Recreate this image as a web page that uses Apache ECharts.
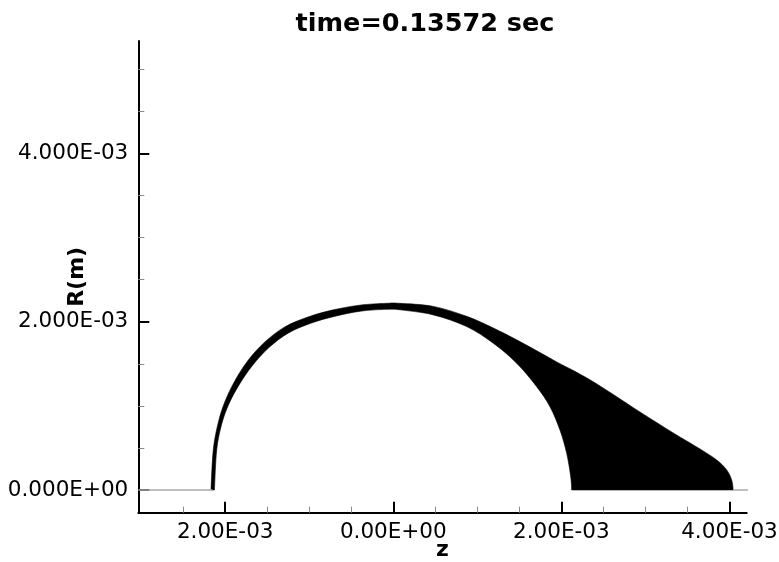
<!DOCTYPE html>
<html>
<head>
<meta charset="utf-8">
<script src="https://cdn.jsdelivr.net/npm/echarts@6/dist/echarts.min.js"></script>
<style>html,body{margin:0;padding:0;background:#fff}#c{width:779px;height:562px}</style>
</head>
<body>
<div id="c"></div>
<script>
// ---- data (values in metres) ----
const titleText = 'time=0.13572 sec';
const xName = 'z';
const yName = 'R(m)';
const xMajorTicks = [-2e-3, 0, 2e-3, 4e-3];
const xTickLabels = ['2.00E-03', '0.00E+00', '2.00E-03', '4.00E-03'];
const xMinorTicks = [-2.5e-3, -1.5e-3, -1e-3, -0.5e-3, 0.5e-3, 1e-3, 1.5e-3, 2.5e-3, 3e-3, 3.5e-3];
const yMajorTicks = [0, 2e-3, 4e-3];
const yTickLabels = ['0.000E+00', '2.000E-03', '4.000E-03'];
const yMinorTicks = [0.5e-3, 1e-3, 1.5e-3, 2.5e-3, 3e-3, 3.5e-3, 4.5e-3, 5e-3];
const xRange = [-3.034e-3, 4.205e-3];
const yRange = [-0.27e-3, 5.336e-3];

// interface outer edge (z, R) in units of 1E-3 m, left bottom -> over the top -> tail end
const outerZ = [-2.169, -2.142, -2.082, -2.005, -1.889, -1.733, -1.532, -1.291, -1.008, -0.726, -0.403, -0.079, 0.080,
  0.476, 0.873, 1.190, 1.468, 1.745, 1.944, 2.182, 2.459, 2.935, 3.331, 3.649, 3.848, 3.967, 4.026, 4.045];
const outerR = [0, 0.476, 0.803, 1.046, 1.290, 1.534, 1.756, 1.938, 2.058, 2.138, 2.196, 2.219, 2.218,
  2.182, 2.064, 1.925, 1.784, 1.633, 1.522, 1.398, 1.237, 0.927, 0.678, 0.488, 0.357, 0.238, 0.119, 0];
// interface inner edge (z, R) in units of 1E-3 m, tail inner bottom -> over the top -> left bottom
const innerZ = [2.123, 2.111, 2.063, 1.983, 1.864, 1.706, 1.468, 1.190, 0.873, 0.476, 0.080,
  -0.079, -0.389, -0.701, -0.973, -1.246, -1.480, -1.676, -1.837, -1.960, -2.042, -2.101, -2.128];
const innerR = [0, 0.158, 0.436, 0.713, 0.990, 1.228, 1.507, 1.744, 1.942, 2.081, 2.141,
  2.147, 2.125, 2.063, 1.985, 1.867, 1.692, 1.479, 1.246, 1.014, 0.782, 0.476, 0];
// symmetry-axis segments outside the drop (z in 1E-3 m)
const baseLeftZ = [-3.034, -2.15];
const baseRightZ = [4.04, 4.22];

const FONT = 'DejaVu Sans';
const chart = echarts.init(document.getElementById('c'), null, {renderer: 'canvas'});

function labelFor(ticks, labels) {
  return function (v) {
    for (let i = 0; i < ticks.length; i++) if (Math.abs(v - ticks[i]) < 1e-9) return labels[i];
    return '';
  };
}

const outerPts = outerZ.map((z, i) => [z * 1e-3, outerR[i] * 1e-3]);
const innerPts = innerZ.map((z, i) => [z * 1e-3, innerR[i] * 1e-3]);

// smooth curve through pixel points (Catmull-Rom as cubic Bezier), drawing only
function curvePath(p, first) {
  let d = (first ? 'M' : 'L') + p[0][0].toFixed(2) + ' ' + p[0][1].toFixed(2);
  const n = p.length;
  for (let i = 0; i < n - 1; i++) {
    const p0 = p[Math.max(0, i - 1)], p1 = p[i], p2 = p[i + 1], p3 = p[Math.min(n - 1, i + 2)];
    const c1 = [p1[0] + (p2[0] - p0[0]) / 6, p1[1] + (p2[1] - p0[1]) / 6];
    const c2 = [p2[0] - (p3[0] - p1[0]) / 6, p2[1] - (p3[1] - p1[1]) / 6];
    d += ' C' + c1[0].toFixed(2) + ' ' + c1[1].toFixed(2) + ' ' + c2[0].toFixed(2) + ' ' + c2[1].toFixed(2) +
      ' ' + p2[0].toFixed(2) + ' ' + p2[1].toFixed(2);
  }
  return d;
}

chart.setOption({
  animation: false,
  backgroundColor: '#fff',
  title: {
    text: titleText, left: 420, top: 6, textAlign: 'center',
    textStyle: {fontFamily: FONT, fontSize: 25.5, fontWeight: 'bold', color: '#000'}
  },
  grid: {left: 138.3, right: 32.3, top: 41, bottom: 49.3, containLabel: false, outerBoundsMode: 'none'},
  xAxis: [{
    type: 'value', min: xRange[0], max: xRange[1], position: 'bottom',
    name: xName, nameLocation: 'middle', nameGap: 27, nameMoveOverlap: false,
    nameTextStyle: {fontFamily: FONT, fontSize: 22, fontWeight: 'bold', color: '#000'},
    axisLine: {show: true, onZero: false, lineStyle: {color: '#000', width: 2}},
    axisTick: {show: true, inside: true, length: 11, lineStyle: {color: '#000', width: 2}, customValues: xMajorTicks},
    axisLabel: {show: true, margin: 9, customValues: xMajorTicks, formatter: labelFor(xMajorTicks, xTickLabels),
      fontFamily: FONT, fontSize: 21.5, color: '#000'},
    splitLine: {show: false}
  }, {
    type: 'value', min: xRange[0], max: xRange[1], position: 'bottom', offset: 0,
    axisLine: {show: false, onZero: false},
    axisTick: {show: true, inside: true, length: 6, lineStyle: {color: '#888', width: 1}, customValues: xMinorTicks},
    axisLabel: {show: false},
    splitLine: {show: false}
  }],
  yAxis: [{
    type: 'value', min: yRange[0], max: yRange[1], position: 'left',
    name: yName, nameLocation: 'middle', nameGap: 50, nameRotate: 90, nameMoveOverlap: false,
    nameTextStyle: {fontFamily: FONT, fontSize: 22, fontWeight: 'bold', color: '#000'},
    axisLine: {show: true, onZero: false, lineStyle: {color: '#000', width: 2}},
    axisTick: {show: true, inside: true, length: 11, lineStyle: {color: '#000', width: 2}, customValues: yMajorTicks},
    axisLabel: {show: true, margin: 10, customValues: yMajorTicks, formatter: labelFor(yMajorTicks, yTickLabels),
      fontFamily: FONT, fontSize: 21.5, color: '#000'},
    splitLine: {show: false}
  }, {
    type: 'value', min: yRange[0], max: yRange[1], position: 'left', offset: 0,
    axisLine: {show: false, onZero: false},
    axisTick: {show: true, inside: true, length: 6, lineStyle: {color: '#888', width: 1}, customValues: yMinorTicks},
    axisLabel: {show: false},
    splitLine: {show: false}
  }],
  series: [{
    type: 'line', xAxisIndex: 0, yAxisIndex: 0, symbol: 'none', silent: true,
    lineStyle: {color: '#aaa', width: 1.5},
    data: baseLeftZ.map(z => [z * 1e-3, 0])
  }, {
    type: 'line', xAxisIndex: 0, yAxisIndex: 0, symbol: 'none', silent: true,
    lineStyle: {color: '#aaa', width: 1.5},
    data: baseRightZ.map(z => [z * 1e-3, 0])
  }, {
    type: 'custom', xAxisIndex: 0, yAxisIndex: 0, silent: true, clip: false,
    data: [outerPts[0]],
    renderItem: function (params, api) {
      const o = outerPts.map(p => api.coord(p));
      const n = innerPts.map(p => api.coord(p));
      const d = curvePath(o, true) + ' ' + curvePath(n, false) + ' Z';
      return {type: 'path', shape: {pathData: d}, style: {fill: '#000', stroke: '#000', lineWidth: 0.6, lineJoin: 'round'}};
    }
  }]
});
</script>
</body>
</html>
